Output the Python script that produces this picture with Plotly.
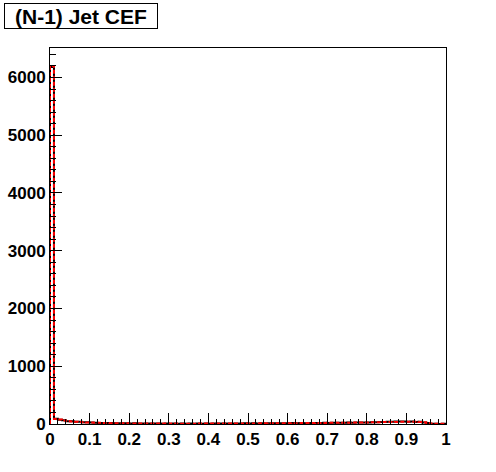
import numpy as np
import plotly.graph_objects as go

# Bin edges: 100 bins from 0 to 1
n_bins = 100
x_min, x_max = 0.0, 1.0

# Red histogram (MC) counts per bin
red_counts = [
    6200,
    85, 78, 62, 52, 45, 40, 36, 32, 28,
    25, 22, 20, 18, 17, 15, 14, 13, 12, 11,
    10, 10, 9, 9, 8, 8, 8, 7, 7, 7,
    7, 7, 6, 6, 6, 6, 6, 7, 7, 7,
    7, 7, 8, 8, 8, 8, 9, 9, 9, 9,
    10, 10, 10, 11, 11, 12, 12, 13, 13, 14,
    14, 15, 15, 16, 16, 17, 17, 18, 18, 19,
    20, 20, 21, 22, 22, 23, 24, 25, 26, 27,
    28, 29, 30, 32, 33, 34, 35, 36, 37, 38,
    38, 38, 37, 36, 30, 18, 8, 5, 4, 4,
]

# Black histogram (data) counts per bin
black_counts = [
    6180,
    90, 72, 66, 48, 47, 38, 38, 30, 29,
    24, 23, 19, 19, 16, 16, 13, 14, 11, 12,
    9, 11, 8, 10, 7, 9, 7, 8, 6, 8,
    6, 8, 5, 7, 5, 7, 6, 8, 6, 8,
    6, 9, 7, 9, 7, 10, 8, 10, 8, 11,
    9, 11, 9, 12, 10, 13, 11, 14, 12, 15,
    13, 16, 14, 17, 15, 18, 16, 19, 17, 20,
    19, 21, 20, 23, 21, 24, 23, 26, 25, 28,
    27, 31, 29, 36, 34, 40, 38, 45, 42, 44,
    40, 42, 36, 38, 28, 16, 6, 3, 2, 3,
]

x_ticks = [0, 0.1, 0.2, 0.3, 0.4, 0.5, 0.6, 0.7, 0.8, 0.9, 1]
x_tick_labels = ["0", "0.1", "0.2", "0.3", "0.4", "0.5", "0.6", "0.7", "0.8", "0.9", "1"]
y_ticks = [0, 1000, 2000, 3000, 4000, 5000, 6000]
y_tick_labels = ["0", "1000", "2000", "3000", "4000", "5000", "6000"]

title_text = "(N-1) Jet CEF"

edges = np.linspace(x_min, x_max, n_bins + 1)


def step_xy(counts):
    xs = [edges[0]] + list(edges[:-1]) + [edges[-1], edges[-1]]
    ys = [0] + list(counts) + [counts[-1], 0]
    return xs, ys


fig = go.Figure()
bx, by = step_xy(black_counts)
fig.add_trace(go.Scatter(x=bx, y=by, mode="lines", line=dict(color="black", width=2, shape="hv"),
                         showlegend=False, hoverinfo="skip"))
rx, ry = step_xy(red_counts)
fig.add_trace(go.Scatter(x=rx, y=ry, mode="lines",
                         line=dict(color="#ff0000", width=2, shape="hv", dash="4px,2px"),
                         showlegend=False, hoverinfo="skip"))

ymax = max(max(red_counts), max(black_counts)) * 1.05

tickfont = dict(family="Liberation Sans, Arial, sans-serif", size=17, color="black", weight="bold")

# plot area in page coords: x 50..446, y 48..424
fig.update_layout(
    width=496, height=472,
    margin=dict(l=50, r=50, t=48, b=48, pad=0),
    paper_bgcolor="white", plot_bgcolor="white",
    xaxis=dict(range=[x_min, x_max], tickmode="array", tickvals=x_ticks, ticktext=x_tick_labels,
               ticks="inside", ticklen=11, tickwidth=1, tickcolor="black",
               minor=dict(dtick=0.02, ticks="inside", ticklen=5, tickcolor="black", showgrid=False),
               showline=True, linecolor="black", linewidth=1, mirror=True, automargin=False,
               showgrid=False, zeroline=False, tickfont=tickfont, fixedrange=True),
    yaxis=dict(range=[0, ymax], tickmode="array", tickvals=y_ticks, ticktext=y_tick_labels,
               ticks="inside", ticklen=12, tickwidth=1, tickcolor="black",
               minor=dict(dtick=200, ticks="inside", ticklen=6, tickcolor="black", showgrid=False),
               showline=True, linecolor="black", linewidth=1, mirror=True, automargin=False,
               showgrid=False, zeroline=False, tickfont=tickfont, fixedrange=True),
    annotations=[dict(
        text=title_text, xref="paper", yref="paper",
        x=(4 - 50) / 396, y=1 + (48 - 3) / 376, xanchor="left", yanchor="top",
        showarrow=False, width=152, height=24, align="center",
        bordercolor="black", borderwidth=1, borderpad=0, bgcolor="white",
        font=dict(family="Liberation Sans, Arial, sans-serif", size=21, color="black", weight="bold"),
    )],
)

fig.write_html("out.html", post_script="document.body.style.margin='0';",
               config={"displayModeBar": False})
